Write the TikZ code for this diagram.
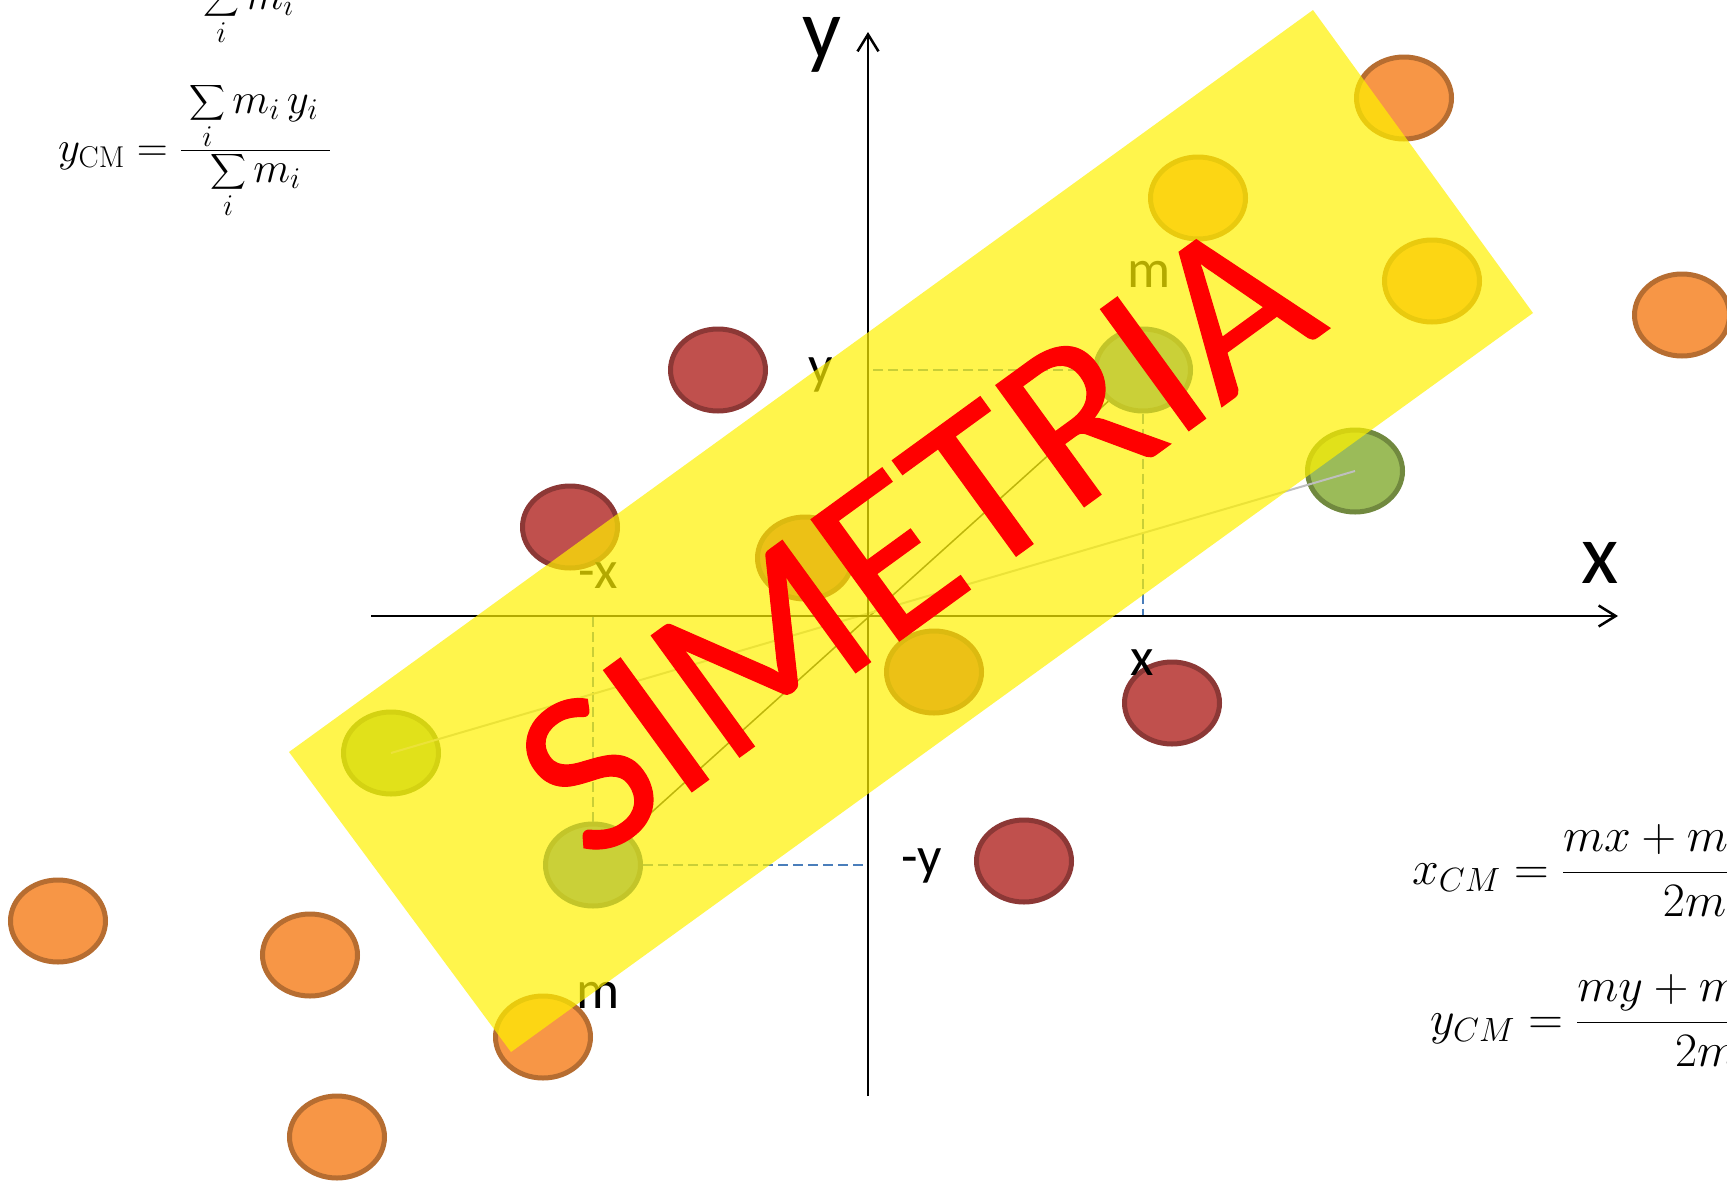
\RequirePackage{fix-cm}
\documentclass[tikz,border=0pt]{standalone}
\usepackage{amsmath}
\usepackage{fontspec}
\newfontfamily\carl{Carlito}
\newfontfamily\carlbig[FakeBold=0.5]{Carlito}
\usetikzlibrary{shapes.geometric,arrows.meta}
\definecolor{orgF}{HTML}{F79646}
\definecolor{orgD}{HTML}{B66D31}
\definecolor{redF}{HTML}{C0504D}
\definecolor{redD}{HTML}{8C3836}
\definecolor{grnF}{HTML}{9BBB59}
\definecolor{grnD}{HTML}{71893F}
\definecolor{bluF}{HTML}{4F81BD}
\definecolor{bluD}{HTML}{385D8A}
\definecolor{dashc}{HTML}{4A7EBB}
\begin{document}
\begin{tikzpicture}[x=1pt,y=-1pt,
  ball/.style={ellipse, minimum width=95pt, minimum height=82pt, inner sep=0pt, line width=5pt},
  oball/.style={ball, fill=orgF, draw=orgD},
  rball/.style={ball, fill=redF, draw=redD},
  gball/.style={ball, fill=grnF, draw=grnD},
  bball/.style={ball, fill=bluF, draw=bluD},
  guide/.style={draw=dashc, line width=2pt, dash pattern=on 10pt off 5pt},
  axis/.style={line width=2.5pt, -{Straight Barb[length=17pt,width=21pt]}},
  lbl/.style={font=\carl\fontsize{54}{60}\selectfont, anchor=base, inner sep=0pt},
  biglbl/.style={font=\carl\fontsize{86}{90}\selectfont, anchor=base, inner sep=0pt},
  eqtl/.style={font=\fontsize{43}{50}\selectfont, anchor=base west, inner sep=0pt},
  eqr/.style={font=\fontsize{48}{56}\selectfont, anchor=base west, inner sep=0pt}]
\useasboundingbox (0,0) rectangle (1727,1181);
\fill[white] (0,0) rectangle (1727,1181);

% origin and axis ends
\coordinate (O) at (868,616);
\coordinate (xs) at (371,616);
\coordinate (xe) at (1618,616);
\coordinate (ys) at (868,1096);
\coordinate (ye) at (868,32);

% balls
\node[oball] (c1) at (1404,98) {};
\node[oball] (c2) at (1198,198) {};
\node[oball] (c3) at (1432,281) {};
\node[oball] (c4) at (1682,315) {};
\node[bball] (c5) at (1143,370) {};
\node[rball] (c6) at (718,370) {};
\node[gball] (c7) at (1355,471) {};
\node[rball] (c8) at (570,527) {};
\node[rball] (c9) at (805,558) {};
\node[rball] (c10) at (934,672) {};
\node[rball] (c11) at (1172,703) {};
\node[gball] (c12) at (391,753) {};
\node[bball] (c13) at (593,865) {};
\node[rball] (c14) at (1024,861) {};
\node[oball] (c15) at (58,921) {};
\node[oball] (c16) at (310,955) {};
\node[oball] (c17) at (543,1037) {};
\node[oball] (c18) at (337,1137) {};

% guides
\draw[guide] (c5.south) -- (c5.center |- O);
\draw[guide] (c5.west) -- (c5.center -| O);
\draw[guide] (c13.north) -- (c13.center |- O);
\draw[guide] (c13.east) -- (c13.center -| O);

% connecting lines
\draw[black!85, line width=1.5pt] (c13) -- (c5);
\draw[black!25, line width=2pt] (c12.center) -- (c7.center);

% axes
\draw[axis] (xs) -- (xe);
\draw[axis] (ys) -- (ye);

% labels
\node[biglbl] (ly) at (822,58) {y};
\node[biglbl] (lx) at (1600,583) {x};
\node[lbl] (ty) at (821,383) {y};
\node[lbl] (tmx) at (598,588) {-x};
\node[lbl] (tx) at (1142,675) {x};
\node[lbl] (tmy) at (922,874) {-y};
\node[lbl] (tm1) at (1149,287) {m};
\node[lbl] (tm2) at (598,1008) {m};

% formulas
\node[eqtl] (fx) at (46,-12) {$x_{\mathrm{CM}} = \frac{\;\displaystyle\sum_i m_i\,x_i\;}{\displaystyle\sum_i m_i}$};
\node[eqtl] (fy) at (58,161) {$y_{\mathrm{CM}} = \frac{\;\displaystyle\sum_i m_i\,y_i\;}{\displaystyle\sum_i m_i}$};
\node[eqr] (rx) at (1412,884) {$x_{CM} = \dfrac{mx+m(-x)}{2m}$};
\node[eqr] (ry) at (1430,1034) {$y_{CM} = \dfrac{my+m(-y)}{2m}$};

% yellow band
\fill[yellow, opacity=0.7] (1313,10) -- (1533,313) -- (511,1052) -- (289,752) -- cycle;

% title
\node[rotate=36, text=red, font=\carlbig\fontsize{234}{240}\selectfont, inner sep=0pt] (sim) at (916,536) {SIMETRIA};
\end{tikzpicture}
\end{document}
